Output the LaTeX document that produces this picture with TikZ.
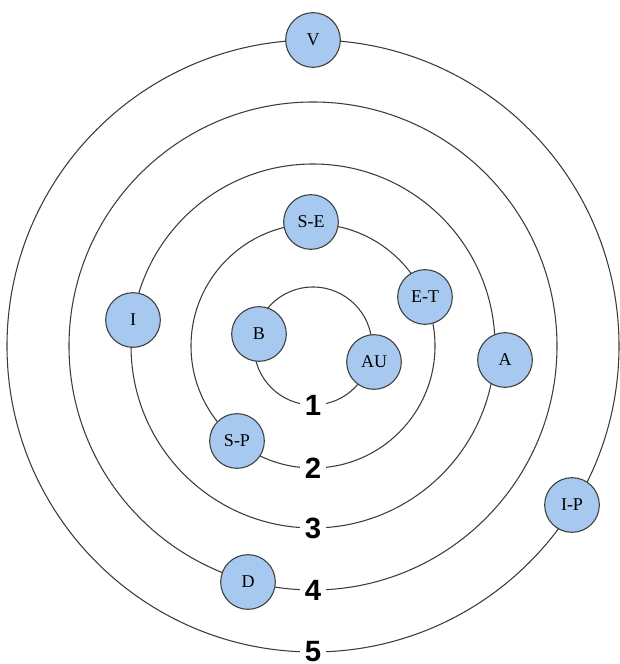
\documentclass[tikz,border=0pt]{standalone}
\usepackage{fontspec}
\newfontfamily\nodefont{Liberation Serif}
\newfontfamily\numfont{Liberation Sans}
\definecolor{nodefill}{HTML}{A7C9EF}
\definecolor{ringcol}{HTML}{3C3C3C}
\tikzset{
  ring/.style={draw=ringcol, line width=0.8pt},
  orb/.style={circle, draw=ringcol, line width=0.8pt, fill=nodefill, minimum size=41pt, inner sep=0pt, font=\nodefont\fontsize{13.5pt}{14pt}\selectfont},
  ringlabel/.style={fill=white, inner sep=3.5pt, font=\numfont\bfseries\fontsize{22pt}{22pt}\selectfont}
}
\begin{document}
\begin{tikzpicture}[x=0.75pt,y=0.75pt]
\useasboundingbox (0,0) rectangle (620,664);
\coordinate (c) at (313,318);
\draw[ring] (c) circle[radius=59];
\draw[ring] (c) circle[radius=122];
\draw[ring] (c) circle[radius=182];
\draw[ring] (c) circle[radius=244];
\draw[ring] (c) circle[radius=306];
\node[ringlabel] (l1) at (313,259) {1};
\node[ringlabel] (l2) at (313,196) {2};
\node[ringlabel] (l3) at (313,136) {3};
\node[ringlabel] (l4) at (313,74) {4};
\node[ringlabel] (l5) at (313,12) {5};
\node[orb] (V) at (313,624) {V};
\node[orb] (SE) at (311,442) {S-E};
\node[orb] (ET) at (425,367) {E-T};
\node[orb] (B) at (259,330) {B};
\node[orb] (AU) at (374,302) {AU};
\node[orb] (SP) at (237,223) {S-P};
\node[orb] (I) at (133,344) {I};
\node[orb] (A) at (505,304) {A};
\node[orb] (IP) at (572,159) {I-P};
\node[orb] (D) at (248,82) {D};
\end{tikzpicture}
\end{document}
